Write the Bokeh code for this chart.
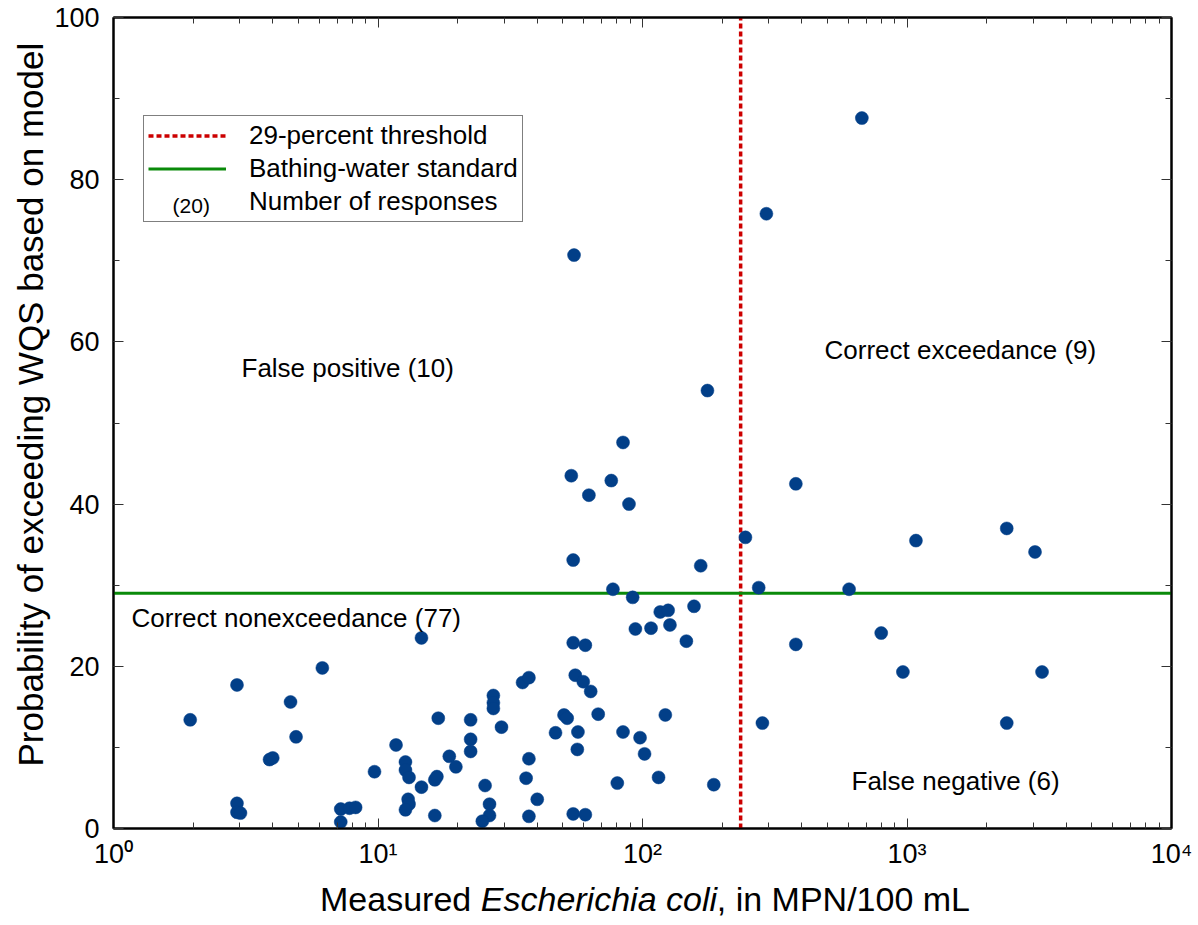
import math
from bokeh.plotting import figure
from bokeh.layouts import column
from bokeh.models import (Range1d, LogAxis, LinearAxis, FixedTicker, SingleIntervalTicker,
                          CustomJSTickFormatter, Label, Legend, LegendItem, Title)
from bokeh.core.properties import value
from bokeh.embed import file_html
from bokeh.resources import INLINE

# ---------------- data ----------------
# Correct nonexceedance (measured < standard, probability < threshold)
cn_ecoli = [1.95, 2.93, 2.93, 2.93, 3.02, 3.89, 4.0, 4.67, 4.9, 6.16,
            7.23, 7.8, 8.23, 7.23, 9.7, 11.7, 12.7, 12.7, 13.1, 13.0,
            13.1, 12.7, 14.6, 16.9, 14.6, 16.4, 16.7, 16.4, 18.6, 19.7,
            22.4, 22.4, 22.4, 27.3, 27.3, 27.3, 29.3, 25.4, 26.4, 26.4,
            24.8, 35.2, 37.2, 36.3, 37.2, 40.0, 37.2, 50.5, 51.9, 46.9,
            57.0, 56.7, 68.0, 54.7, 60.8, 84.4, 97.9, 101.8, 122.0, 80.3,
            115.0, 186.0, 54.7, 60.8, 55.7, 59.7, 63.7, 91.8, 116.7, 125.0,
            156.6, 94.0, 107.7, 127.0, 146.5]
cn_prob = [13.4, 17.7, 3.1, 2.0, 1.9, 8.5, 8.7, 15.6, 11.3, 19.8,
           2.4, 2.5, 2.6, 0.8, 7.0, 10.3, 8.2, 7.2, 6.3, 3.6,
           3.0, 2.3, 23.5, 13.6, 5.1, 6.0, 6.4, 1.6, 8.9, 7.6,
           13.4, 11.0, 9.5, 16.4, 15.5, 14.8, 12.5, 5.3, 3.0, 1.6,
           0.9, 18.0, 18.6, 6.2, 8.6, 3.6, 1.5, 14.0, 13.6, 11.8,
           11.9, 9.75, 14.1, 1.8, 1.7, 11.9, 11.2, 9.2, 14.0, 5.6,
           6.3, 5.4, 22.9, 22.6, 18.9, 18.1, 16.9, 28.5, 26.7, 26.9,
           27.4, 24.6, 24.7, 25.1, 23.1]
# False positive
fp_ecoli = [55.1, 176.0, 84.4, 53.8, 76.2, 62.7, 88.9, 54.7, 166.0, 77.3]
fp_prob = [70.7, 54.0, 47.6, 43.5, 42.9, 41.1, 40.0, 33.1, 32.4, 29.5]
# Correct exceedance
ce_ecoli = [675.0, 294.0, 380.0, 245.0, 1081.0, 2383.0, 3048.0, 275.0, 604.0]
ce_prob = [87.6, 75.8, 42.5, 35.9, 35.5, 37.0, 34.1, 29.7, 29.5]
# False negative
fn_ecoli = [799.0, 380.0, 965.0, 3240.0, 284.0, 2383.0]
fn_prob = [24.1, 22.7, 19.3, 19.3, 13.0, 13.0]

ecoli = cn_ecoli + fp_ecoli + ce_ecoli + fn_ecoli
prob = cn_prob + fp_prob + ce_prob + fn_prob

bathing_standard = 235      # MPN/100 mL (vertical line)
prob_threshold = 29         # percent (horizontal line)
x_limits = [1, 10000]
y_limits = [0, 100]

x_major = [1, 10, 100, 1000, 10000]
x_minor = [m * 10 ** d for d in range(4) for m in range(2, 10)]

region_labels = ["False positive (10)", "Correct exceedance (9)",
                 "Correct nonexceedance (77)", "False negative (6)"]
legend_labels = ["29-percent threshold", "Bathing-water standard", "Number of responses"]
legend_count = "(20)"
y_title = "Probability of exceeding WQS based on model"
x_title_parts = ["Measured", "Escherichia coli", ", in MPN/100 mL"]

FONT = "Liberation Sans"
BLUE = "#023f88"
RED = "#cc0000"
GREEN = "#0a8a0a"

W = 1196
BL, BR = 113, 25
FW = W - BL - BR   # frame width

p = figure(width=W, height=872, x_axis_type="log",
           x_range=Range1d(*x_limits), y_range=Range1d(*y_limits),
           output_backend="svg", toolbar_location=None,
           min_border_left=BL, min_border_right=BR, min_border_top=17, min_border_bottom=44)
p.xgrid.visible = False
p.ygrid.visible = False
p.outline_line_color = "black"
p.outline_line_width = 2
p.background_fill_color = "white"
p.border_fill_color = "white"

sup_code = """
const sup = {"0":"\\u2070","1":"\\u00b9","2":"\\u00b2","3":"\\u00b3","4":"\\u2074",
             "5":"\\u2075","6":"\\u2076","7":"\\u2077","8":"\\u2078","9":"\\u2079","-":"\\u207b"};
const e = Math.round(Math.log10(tick));
return "10" + String(e).split("").map(c => sup[c]).join("");
"""

def style_axis(ax, labels=True):
    ax.axis_line_color = "black"
    ax.axis_line_width = 2
    ax.major_tick_in = 10
    ax.major_tick_out = 0
    ax.minor_tick_in = 6
    ax.minor_tick_out = 0
    ax.major_tick_line_color = "#333333"
    ax.minor_tick_line_color = "#333333"
    ax.major_tick_line_width = 1
    ax.minor_tick_line_width = 1
    ax.axis_label = None
    if labels:
        ax.major_label_text_font = FONT
        ax.major_label_text_font_size = "27px"
        ax.major_label_text_color = "black"
    else:
        ax.major_label_text_font_size = "0px"
        ax.major_label_standoff = 0

p.xaxis.ticker = FixedTicker(ticks=x_major, minor_ticks=x_minor)
p.xaxis.formatter = CustomJSTickFormatter(code=sup_code)
style_axis(p.xaxis[0])
p.xaxis.major_label_standoff = 10

p.yaxis.ticker = SingleIntervalTicker(interval=20, num_minor_ticks=2)
style_axis(p.yaxis[0])
p.yaxis.major_label_standoff = 14

top_ax = LogAxis(ticker=FixedTicker(ticks=x_major, minor_ticks=x_minor),
                 formatter=CustomJSTickFormatter(code="return '';"))
style_axis(top_ax, labels=False)
p.add_layout(top_ax, "above")
right_ax = LinearAxis(ticker=SingleIntervalTicker(interval=20, num_minor_ticks=2),
                      formatter=CustomJSTickFormatter(code="return '';"))
style_axis(right_ax, labels=False)
p.add_layout(right_ax, "right")

# y-axis title as a left-side title (shifted along the axis like the reference)
p.add_layout(Title(text=y_title, align="left", offset=62, standoff=4,
                   text_font=FONT, text_font_size="35px", text_font_style="normal",
                   text_color="black"), "left")

# reference lines
red_line = p.line(x=[bathing_standard, bathing_standard], y=y_limits,
                  line_color=RED, line_width=3.5, line_dash="5 3")
green_line = p.line(x=x_limits, y=[prob_threshold, prob_threshold],
                    line_color=GREEN, line_width=3)

# points
p.scatter(x=ecoli, y=prob, size=13, fill_color=BLUE, line_color=BLUE, line_width=0.5)

# dummy renderer for third legend row
dummy = p.scatter(x=[], y=[], size=1, fill_alpha=0, line_alpha=0)

legend = Legend(items=[LegendItem(label=legend_labels[0], renderers=[red_line]),
                       LegendItem(label=legend_labels[1], renderers=[green_line]),
                       LegendItem(label=legend_labels[2], renderers=[dummy])],
                location=(30, 606), padding=4, spacing=2, margin=0,
                glyph_width=78, glyph_height=29, label_standoff=23,
                label_text_font=FONT, label_text_font_size="26px", label_text_color="black",
                border_line_color="black", border_line_width=1.2,
                background_fill_alpha=0)
p.add_layout(legend, "center")

p.add_layout(Label(x=77.7, y=623.5, x_units="screen", y_units="screen", text=legend_count,
                   text_font=FONT, text_font_size="21px", text_align="center",
                   text_baseline="middle", text_color="black"))

# region labels
region_pos = [(128, 461), (711, 479), (18, 211), (738, 48)]
for txt, (sx, sy) in zip(region_labels, region_pos):
    p.add_layout(Label(x=sx, y=sy, x_units="screen", y_units="screen", text=txt,
                       text_font=FONT, text_font_size="26px", text_align="left",
                       text_baseline="middle", text_color="black"))

# x-axis title (mixed upright / italic) drawn in a strip below the plot;
# its frame lines up with the main frame, so positions are relative to the frame left
H2 = 50
p2 = figure(width=W, height=H2, x_range=Range1d(0, FW), y_range=Range1d(0, H2),
            output_backend="svg", toolbar_location=None,
            x_axis_location=None, y_axis_location=None,
            min_border_left=BL, min_border_right=BR,
            min_border_top=0, min_border_bottom=0)
p2.xgrid.visible = False
p2.ygrid.visible = False
p2.outline_line_color = None
p2.border_fill_color = "white"
p2.background_fill_color = "white"

xt_pos = [357.7, 367.3, 603.3]
xt_align = ["right", "left", "left"]
xt_style = ["normal", "italic", "normal"]
baseline_y = H2 - 26
for txt, xx, al, st in zip(x_title_parts, xt_pos, xt_align, xt_style):
    p2.text(x=[xx], y=[baseline_y], text=[txt], text_font=value(FONT),
            text_font_size="34px", text_font_style=st, text_align=al,
            text_baseline="alphabetic", text_color="black")

open("out.html", "w", encoding="utf-8").write(file_html(column(p, p2), INLINE))
